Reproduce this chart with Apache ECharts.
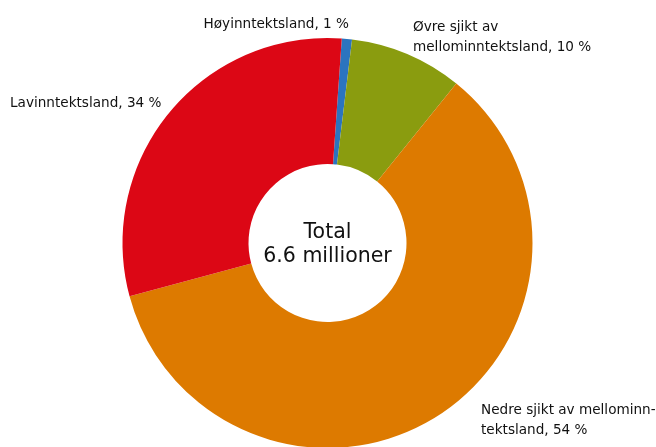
<!DOCTYPE html>
<html>
<head>
<meta charset="utf-8">
<script src="https://cdn.jsdelivr.net/npm/echarts@6/dist/echarts.min.js"></script>
<style>
  html, body { margin: 0; padding: 0; background: #fff; }
  #chart { width: 656px; height: 447px; }
</style>
</head>
<body>
<div id="chart"></div>
<script>
// andeler slik de er tegnet (grader / 360), og prosentene som står i etikettene
const categories = ['Høyinntektsland', 'Øvre sjikt av\nmellominntektsland', 'Nedre sjikt av mellominn-\ntektsland', 'Lavinntektsland'];
const sliceShares = [0.8, 8.9, 60.0, 30.3];
const labelPercent = [1, 10, 54, 34];
const colors = ['#2b74bf', '#8a9c0f', '#dd7a00', '#dc0715'];
const centerText = 'Total\n6.6 millioner';

// etikettplassering: [x, y, justering]
const labelAnchors = [
  [349, 24, 'right'],
  [413, 37, 'left'],
  [481, 420, 'left'],
  [10, 103, 'left']
];

const chart = echarts.init(document.getElementById('chart'));

const option = {
  animation: false,
  color: colors,
  graphic: [{
    type: 'text',
    x: 327.5,
    y: 245,
    style: {
      text: centerText,
      font: '20.5px "DejaVu Sans"',
      fill: '#111',
      align: 'center',
      verticalAlign: 'middle',
      lineHeight: 24
    }
  }],
  series: [{
    type: 'pie',
    center: [327.5, 243],
    radius: [79, 205],
    startAngle: 86,
    clockwise: true,
    avoidLabelOverlap: false,
    emphasis: { disabled: true },
    itemStyle: { borderWidth: 0 },
    label: {
      show: true,
      position: 'outside',
      fontFamily: 'DejaVu Sans',
      fontSize: 13.6,
      color: '#111',
      lineHeight: 20,
      overflow: 'none',
      formatter: p => categories[p.dataIndex] + ', ' + labelPercent[p.dataIndex] + ' %'
    },
    labelLine: { show: false },
    labelLayout: p => {
      const a = labelAnchors[p.dataIndex];
      return { x: a[0], y: a[1], align: a[2], verticalAlign: 'middle' };
    },
    data: categories.map((c, i) => ({ name: c, value: sliceShares[i] }))
  }]
};

chart.setOption(option);
</script>
</body>
</html>
